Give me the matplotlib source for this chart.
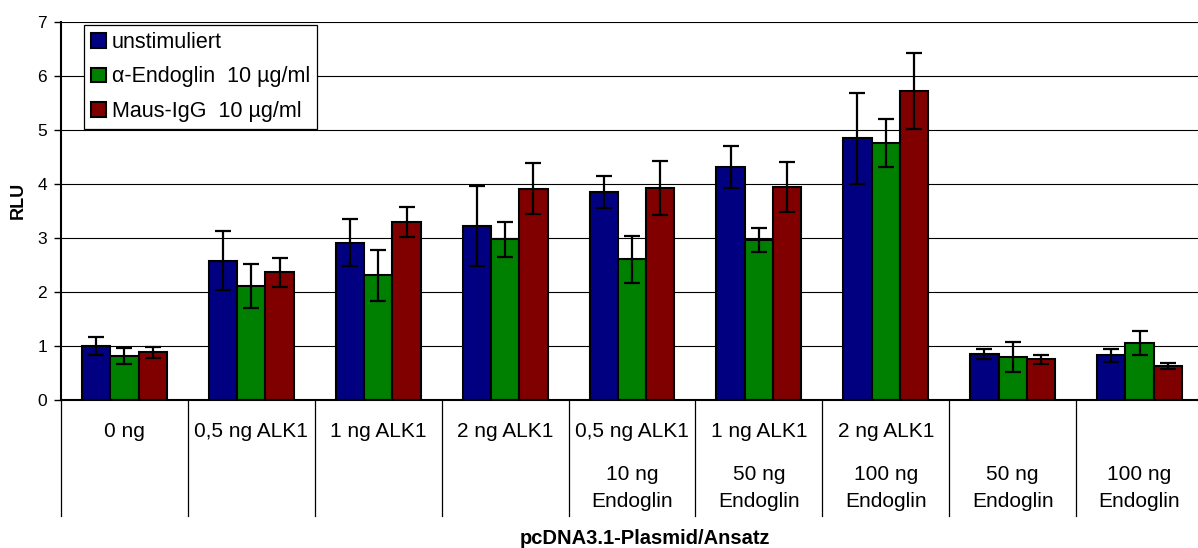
import numpy as np
import matplotlib
matplotlib.use('Agg')
import matplotlib.pyplot as plt
from matplotlib.patches import Patch

plt.rcParams['font.family'] = ['Liberation Sans', 'DejaVu Sans']

# Data
row1 = ['0 ng', '0,5 ng ALK1', '1 ng ALK1', '2 ng ALK1', '0,5 ng ALK1',
        '1 ng ALK1', '2 ng ALK1', '', '']
row2 = ['', '', '', '', '10 ng', '50 ng', '100 ng', '50 ng', '100 ng']
row3 = ['', '', '', '', 'Endoglin', 'Endoglin', 'Endoglin', 'Endoglin', 'Endoglin']

series_names = ['unstimuliert', 'α-Endoglin  10 µg/ml', 'Maus-IgG  10 µg/ml']
unstim = [1.00, 2.58, 2.91, 3.22, 3.85, 4.31, 4.84, 0.85, 0.83]
unstim_err = [0.17, 0.55, 0.43, 0.74, 0.29, 0.39, 0.84, 0.10, 0.12]
endo = [0.81, 2.11, 2.31, 2.97, 2.60, 2.96, 4.76, 0.80, 1.06]
endo_err = [0.15, 0.41, 0.47, 0.32, 0.44, 0.22, 0.44, 0.28, 0.22]
igg = [0.88, 2.36, 3.30, 3.91, 3.93, 3.94, 5.72, 0.75, 0.63]
igg_err = [0.10, 0.26, 0.28, 0.47, 0.50, 0.46, 0.70, 0.09, 0.05]

colors = ['#000080', '#008000', '#800000']

fig = plt.figure(figsize=(11.98, 5.48), dpi=100)
ax = fig.add_axes([61 / 1198, 1 - 400 / 548, 1142 / 1198, 378.3 / 548])

x = np.arange(len(row1))
w = 0.223
for k, (vals, errs) in enumerate([(unstim, unstim_err), (endo, endo_err), (igg, igg_err)]):
    ax.bar(x + (k - 1) * w, vals, w, color=colors[k], edgecolor='black',
           linewidth=1.5, zorder=2)
    ax.errorbar(x + (k - 1) * w, vals, yerr=errs, fmt='none', ecolor='black',
                elinewidth=1.6, capsize=5.6, capthick=1.6, zorder=3)

ax.set_xlim(-0.5, len(row1) - 0.5)
ax.set_ylim(0, 7)
ax.set_yticks(range(8))
ax.yaxis.grid(True, color='black', linewidth=0.8)
ax.set_axisbelow(True)
ax.set_xticks([])
ax.tick_params(axis='y', labelsize=12.5, length=5, width=1, pad=5)
for s in ['top', 'right']:
    ax.spines[s].set_visible(False)
ax.spines['left'].set_linewidth(1.5)
ax.spines['bottom'].set_linewidth(1.5)

# category table below the axis
for b in np.arange(-0.5, len(row1) - 0.5, 1.0):
    ax.plot([b, b], [0, -116 / 378.3], color='black', linewidth=0.9,
            transform=ax.get_xaxis_transform(), clip_on=False)

for i in range(len(row1)):
    for txt, off in [(row1[i], 31.7), (row2[i], 75), (row3[i], 101.7)]:
        if txt:
            ax.annotate(txt, xy=(i, 0), xycoords=('data', 'axes fraction'),
                        xytext=(0, -off * 0.72), textcoords='offset points',
                        ha='center', va='center', fontsize=15)

fig.text(18 / 1198, 1 - 200 / 548, 'RLU', rotation=90, ha='center', va='center',
         fontsize=13, fontweight='bold')
fig.text(645 / 1198, 1 - 538 / 548, 'pcDNA3.1-Plasmid/Ansatz', ha='center',
         va='center', fontsize=14.5, fontweight='bold')

handles = [Patch(facecolor=c, edgecolor='black', linewidth=1.5) for c in colors]
leg = ax.legend(handles, series_names, loc='upper left',
                bbox_to_anchor=((84 - 61) / 1142, (400 - 25) / 378.3),
                borderaxespad=0, fontsize=15.5, fancybox=False, framealpha=1,
                edgecolor='black', handlelength=0.67, handleheight=0.67,
                handletextpad=0.28, labelspacing=0.62, borderpad=0.33)
leg.get_frame().set_linewidth(0.9)

fig.savefig('out.png', dpi=100)
